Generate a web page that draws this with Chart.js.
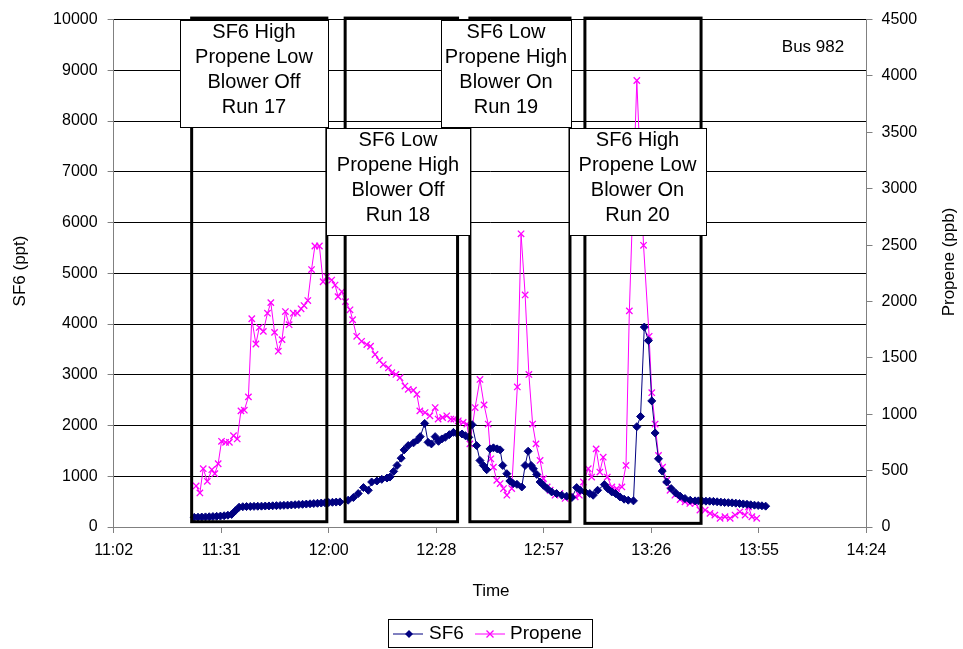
<!DOCTYPE html>
<html>
<head>
<meta charset="utf-8">
<title>Bus 982</title>
<script src="https://cdn.jsdelivr.net/npm/chart.js@4.4.1/dist/chart.umd.min.js"></script>
<style>
  html, body { margin: 0; padding: 0; background: #fff; }
  #wrap { position: relative; width: 963px; height: 649px; }
</style>
</head>
<body>
<div id="wrap"><canvas id="busChart"></canvas></div>
<script>
// times are minutes after midnight
const sf6Time = [
  684, 685, 686, 687, 688, 689, 690, 691, 692, 693, 694, 695, 696, 697, 698, 699,
  700, 701, 702, 703, 704, 705, 706, 707, 708, 709, 710, 711, 712, 713, 714, 715,
  716, 717, 718, 719, 720, 721, 722, 723, 725.2, 726.6, 727.9, 729.3, 730.6, 731.5,
  732.9, 734.2, 735.6, 736.4, 737.4, 738.3, 739.4, 740.2, 741.3, 742.7, 743.8, 744.5,
  745.7, 746.6, 747.5, 748.5, 749.4, 750.3, 751.2, 752.3, 753.4, 754.3, 755.7, 756.6,
  757.5, 758.4, 759.6, 760.5, 761.4, 762.3, 763.2, 764.1, 765.1, 765.9, 766.6, 767.7,
  768.5, 769.4, 770.4, 771.7, 772.6, 773.4, 774.2, 774.8, 775.7, 776.6, 777.5, 778.5,
  779.7, 781, 782.4, 783.7, 785.1, 786.4, 787.3, 788.6, 789.9, 790.8, 792, 793.8,
  794.7, 795.8, 796.8, 798, 799.1, 800.2, 801.6, 802.5, 803.5, 804.5, 805.6, 806.5,
  807.4, 808.3, 809.3, 810.5, 811.7, 812.9, 814.1, 815.4, 816.8, 818.1, 819, 820,
  821, 822, 823, 824, 825, 826, 827, 828, 829, 830, 831, 832, 833, 834, 835, 836, 837
];
const sf6Ppt = [
  190, 193, 196, 199, 202, 206, 210, 215, 222, 232, 248, 320, 390, 400, 403, 405,
  407, 409, 411, 413, 415, 418, 421, 424, 427, 431, 435, 439, 443, 447, 452, 457,
  462, 467, 472, 477, 482, 487, 491, 495, 528, 581, 659, 777, 724, 887,
  906, 939, 965, 984, 1096, 1213, 1356, 1520, 1605, 1658, 1716, 1781,
  2041, 1669, 1638, 1781, 1689, 1736, 1767, 1820, 1865, 1846, 1833, 1800,
  1767, 2016, 1605, 1311, 1213, 1129, 1540, 1560, 1540, 1520, 1213, 1051,
  906, 855, 841, 789, 1213, 1493, 1213, 1148, 1037, 887, 822, 757,
  691, 659, 626, 607, 581, 777, 724, 691, 659, 626, 724, 836,
  757, 691, 659, 593, 548, 528, 515, 1977, 2178, 3940, 3673, 2485,
  1853, 1344, 1102, 887, 757, 671, 607, 561, 528, 515, 515, 512,
  509, 509, 505, 497, 490, 484, 480, 476, 470, 462, 455, 448, 438, 430, 424, 418, 411
];
const propeneTime = [
  684.5, 685.5, 686.4, 687.5, 688.7, 689.5, 690.4, 691.3, 692.4, 693.4, 694.5, 695.5,
  696.5, 697.4, 698.5, 699.4, 700.5, 701.4, 702.5, 703.6, 704.5, 705.5, 706.5, 707.5,
  708.4, 709.4, 710.5, 711.6, 712.6, 713.4, 714.4, 715.4, 716.3, 717.5, 718.5, 719.5,
  720.8, 721.7, 722.5, 723.5, 724.5, 725.7, 726.4, 727.5, 728.8, 730.2, 731.2, 732.4,
  733.6, 734.6, 736, 736.9, 738, 739.1, 740.4, 741.3, 742.7, 743.6, 744.4, 745.8,
  747.1, 748.5, 749.3, 750.5, 751.6, 752.7, 753.5, 754.7, 756, 757, 757.8, 759.2,
  760.5, 761.6, 762.7, 763.4, 764.1, 765, 765.9, 766.8, 767.7, 769, 770.5, 771.5,
  772.6, 773.6, 774.6, 775.5, 776.6, 777.5, 778.5, 779.3, 780.6, 781.9, 783.3, 784.6,
  786, 787.1, 788.2, 789.5, 790.4, 791.6, 792.6, 793.5, 794.6, 795.8, 797.1, 798.5,
  799.6, 800.5, 802.5, 804.3, 805.8, 806.5, 807.4, 808.3, 809.4, 810.5, 811.4, 812.7,
  814.1, 815.4, 816.7, 818.1, 819.4, 820.8, 822.1, 823.4, 824.8, 826.1, 827.5, 828.8,
  830.1, 831.5, 832.4, 833.3, 834.6
];
const propenePpb = [
  364, 302, 517, 405, 508, 473, 561, 760, 751, 751, 810, 781,
  1030, 1036, 1154, 1847, 1623, 1770, 1735, 1896, 1990, 1726, 1559, 1662,
  1911, 1794, 1896, 1896, 1935, 1964, 2008, 2283, 2492, 2492, 2175, 2219,
  2190, 2146, 2043, 2087, 1999, 1926, 1838, 1691, 1647, 1618, 1603, 1530,
  1477, 1441, 1412, 1368, 1353, 1324, 1250, 1221, 1213, 1177, 1030, 1015,
  986, 1059, 957, 971, 986, 957, 957, 942, 927, 913, 737, 1059,
  1309, 1083, 913, 605, 531, 414, 385, 341, 282, 341, 1242, 2600,
  2058, 1353, 913, 737, 590, 429, 355, 326, 282, 297, 253, 267,
  267, 282, 399, 517, 443, 693, 487, 619, 443, 355, 341, 355,
  546, 1917, 3960, 2498, 1691, 1191, 913, 634, 531, 414, 326, 282,
  244, 223, 209, 209, 150, 150, 121, 106, 77, 91, 77, 106,
  135, 106, 179, 91, 77
];
const timeTicks = [662.4, 691.2, 720, 748.8, 777.6, 806.4, 835.2, 864];

// the four test runs: start/end in minutes, top/bottom in ppt
const runStart = [683.3, 724.4, 757.8, 788.6];
const runEnd = [719.5, 754.5, 784.6, 819.7];
const runBottom = [104, 104, 104, 72];
const runTop = 10030;
const runNotes = [
  ["SF6 High", "Propene Low", "Blower Off", "Run 17"],
  ["SF6 Low", "Propene High", "Blower Off", "Run 18"],
  ["SF6 Low", "Propene High", "Blower On", "Run 19"],
  ["SF6 High", "Propene Low", "Blower On", "Run 20"]
];
// note boxes in pixels: left, top, width, height
const noteBoxes = [
  [180, 20, 148, 107],
  [326, 128, 144, 107],
  [441, 20, 130, 107],
  [569, 128, 137, 107]
];

const FONT = "'Liberation Sans', Arial, sans-serif";
const SF6_COLOR = "#000080";
const PROP_COLOR = "#FF00FF";

function fmtTime(m) {
  const h = Math.floor(m / 60);
  const mm = Math.floor(m - h * 60 + 1e-6);
  return h + ":" + String(mm).padStart(2, "0");
}

const overlay = {
  id: "overlay",
  afterDatasetsDraw(chart) {
    const { ctx, scales } = chart;
    const x = scales.x, y = scales.ySf6;
    ctx.save();

    // thick run rectangles
    ctx.strokeStyle = "#000";
    ctx.lineWidth = 3;
    runStart.forEach((s, i) => {
      const l = x.getPixelForValue(s);
      const r = x.getPixelForValue(runEnd[i]);
      const t = y.getPixelForValue(runTop);
      const b = y.getPixelForValue(runBottom[i]);
      ctx.strokeRect(l, t, r - l, b - t);
    });

    // note boxes on top
    ctx.font = "20px " + FONT;
    ctx.textAlign = "center";
    ctx.textBaseline = "middle";
    noteBoxes.forEach((bx, i) => {
      const [l, t, w, h] = bx;
      ctx.fillStyle = "#fff";
      ctx.fillRect(l, t, w, h);
      ctx.strokeStyle = "#000";
      ctx.lineWidth = 1;
      ctx.strokeRect(l + 0.5, t + 0.5, w, h);
      ctx.fillStyle = "#000";
      runNotes[i].forEach((line, k) => {
        ctx.fillText(line, l + w / 2, t + 12 + k * 25);
      });
    });

    ctx.font = "17px " + FONT;
    ctx.fillText("Bus 982", 813, 47);
    ctx.restore();
  },
  afterDraw(chart) {
    const { ctx } = chart;
    ctx.save();
    ctx.fillStyle = "#000";
    ctx.textAlign = "center";
    ctx.textBaseline = "middle";
    ctx.font = "17px " + FONT;
    ctx.fillText("Time", 491, 591);

    ctx.save();
    ctx.translate(20, 271);
    ctx.rotate(-Math.PI / 2);
    ctx.fillText("SF6 (ppt)", 0, 0);
    ctx.restore();

    ctx.save();
    ctx.translate(949, 262);
    ctx.rotate(-Math.PI / 2);
    ctx.fillText("Propene (ppb)", 0, 0);
    ctx.restore();

    // legend
    ctx.strokeStyle = "#000";
    ctx.lineWidth = 1;
    ctx.strokeRect(388.5, 619.5, 204, 28);
    ctx.textAlign = "left";
    ctx.font = "19px " + FONT;

    ctx.strokeStyle = SF6_COLOR;
    ctx.beginPath(); ctx.moveTo(393, 634); ctx.lineTo(423, 634); ctx.stroke();
    ctx.fillStyle = SF6_COLOR;
    ctx.beginPath();
    ctx.moveTo(409, 630); ctx.lineTo(413, 634); ctx.lineTo(409, 638); ctx.lineTo(405, 634);
    ctx.closePath(); ctx.fill();
    ctx.fillStyle = "#000";
    ctx.fillText("SF6", 429, 634);

    ctx.strokeStyle = PROP_COLOR;
    ctx.beginPath(); ctx.moveTo(475, 634); ctx.lineTo(505, 634); ctx.stroke();
    ctx.lineWidth = 1.3;
    ctx.beginPath();
    ctx.moveTo(486.5, 630.5); ctx.lineTo(493.5, 637.5);
    ctx.moveTo(493.5, 630.5); ctx.lineTo(486.5, 637.5);
    ctx.stroke();
    ctx.fillStyle = "#000";
    ctx.fillText("Propene", 510, 634);
    ctx.restore();
  }
};

new Chart(document.getElementById("busChart"), {
  type: "line",
  data: {
    datasets: [
      {
        label: "SF6",
        data: sf6Time.map((t, i) => ({ x: t, y: sf6Ppt[i] })),
        yAxisID: "ySf6",
        borderColor: SF6_COLOR,
        backgroundColor: SF6_COLOR,
        borderWidth: 1,
        pointStyle: "rectRot",
        pointRadius: 4,
        pointBorderWidth: 1,
        tension: 0
      },
      {
        label: "Propene",
        data: propeneTime.map((t, i) => ({ x: t, y: propenePpb[i] })),
        yAxisID: "yProp",
        borderColor: PROP_COLOR,
        backgroundColor: PROP_COLOR,
        borderWidth: 1,
        pointStyle: "crossRot",
        pointRadius: 4.5,
        pointBorderWidth: 1.3,
        tension: 0
      }
    ]
  },
  options: {
    responsive: true,
    maintainAspectRatio: false,
    animation: false,
    layout: { padding: { top: 16, left: 0, right: 0, bottom: 0 } },
    plugins: { legend: { display: false }, tooltip: { enabled: false } },
    scales: {
      x: {
        type: "linear",
        min: 662.4,
        max: 864,
        afterBuildTicks: (s) => { s.ticks = timeTicks.map((v) => ({ value: v })); },
        afterFit: (s) => { s.height = 122; },
        grid: { drawOnChartArea: false, drawTicks: true, tickLength: 6, color: "#808080" },
        border: { color: "#808080", width: 1 },
        ticks: {
          color: "#000",
          font: { family: FONT, size: 16 },
          padding: 8,
          maxRotation: 0,
          autoSkip: false,
          callback: (v) => fmtTime(v)
        }
      },
      ySf6: {
        position: "left",
        min: 0,
        max: 10000,
        afterFit: (s) => { s.width = 113.6; },
        ticks: {
          stepSize: 1000,
          color: "#000",
          font: { family: FONT, size: 16 },
          padding: 10,
          callback: (v) => String(v)
        },
        grid: { color: "#000", lineWidth: 1, tickLength: 6, tickColor: "#808080" },
        border: { color: "#808080", width: 1 }
      },
      yProp: {
        position: "right",
        min: 0,
        max: 4500,
        afterFit: (s) => { s.width = 96.5; },
        ticks: {
          stepSize: 500,
          color: "#000",
          font: { family: FONT, size: 16 },
          padding: 9,
          callback: (v) => String(v)
        },
        grid: { drawOnChartArea: false, tickLength: 6, color: "#808080" },
        border: { color: "#808080", width: 1 }
      }
    }
  },
  plugins: [overlay]
});
</script>
</body>
</html>
